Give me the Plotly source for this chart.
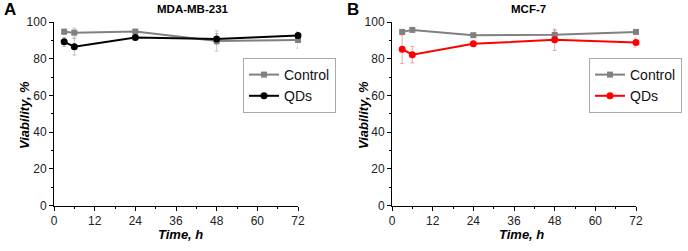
import plotly.graph_objects as go

time_h = [3, 6, 24, 48, 72]

a_control = [94.7, 94.2, 94.8, 89.6, 90.2]
a_control_err = [1.5, 2.5, 1.0, 5.5, 4.5]
a_qds = [89.2, 86.5, 91.6, 90.7, 92.7]
a_qds_err = [2.5, 4.5, 1.0, 3.0, 1.0]

b_control = [94.6, 95.7, 92.8, 93.0, 94.6]
b_control_err = [1.0, 0.8, 1.0, 2.5, 1.0]
b_qds = [85.2, 82.2, 88.1, 90.3, 88.8]
b_qds_err = [7.8, 4.5, 1.0, 5.8, 2.5]

x_ticks = [0, 12, 24, 36, 48, 60, 72]
y_ticks = [0, 20, 40, 60, 80, 100]

W, H = 688, 251
FONT = "Liberation Sans, Arial, sans-serif"

fig = go.Figure()

def add_series(y, err, name, color, ecolor, symbol, size, xa, ya, legend):
    fig.add_trace(go.Scatter(
        x=time_h, y=y, name=name, mode="lines+markers",
        line=dict(color=color, width=2),
        marker=dict(color=color, symbol=symbol, size=size),
        error_y=dict(type="data", array=err, visible=True, color=ecolor,
                     thickness=1, width=2),
        xaxis=xa, yaxis=ya, legend=legend, cliponaxis=False,
    ))

add_series(a_control, a_control_err, "Control", "#808080", "rgba(160,160,160,0.55)", "square", 6, "x", "y", "legend")
add_series(a_qds, a_qds_err, "QDs", "#000000", "rgba(140,140,140,0.55)", "circle", 7, "x", "y", "legend")
add_series(b_control, b_control_err, "Control", "#808080", "rgba(160,160,160,0.55)", "square", 6, "x2", "y2", "legend2")
add_series(b_qds, b_qds_err, "QDs", "#ff0000", "rgba(220,90,90,0.5)", "circle", 7, "x2", "y2", "legend2")

def px_x(p):
    return p / W

def px_y(p):
    return 1 - p / H

ydom = [px_y(205.5), px_y(22)]

axis_common = dict(
    showgrid=False, zeroline=False, showline=True, linecolor="#000", linewidth=1,
    ticks="outside", ticklen=4, tickcolor="#000", tickwidth=1,
    tickfont=dict(family=FONT, size=12, color="#222"),
)

fig.update_layout(
    template="none",
    width=W, height=H, margin=dict(l=0, r=0, t=0, b=0, pad=0, autoexpand=False),
    paper_bgcolor="white", plot_bgcolor="white", showlegend=True,
    xaxis=dict(domain=[px_x(54), px_x(298)], range=[0, 72], tickvals=x_ticks,
               minor=dict(dtick=6, tick0=0, ticks="outside", ticklen=2, tickcolor="#000"),
               anchor="y", **axis_common),
    yaxis=dict(domain=ydom, range=[0, 100], tickvals=y_ticks,
               minor=dict(dtick=10, tick0=0, ticks="outside", ticklen=2, tickcolor="#000"),
               anchor="x", **axis_common),
    xaxis2=dict(domain=[px_x(392), px_x(636)], range=[0, 72], tickvals=x_ticks,
                minor=dict(dtick=6, tick0=0, ticks="outside", ticklen=2, tickcolor="#000"),
                anchor="y2", **axis_common),
    yaxis2=dict(domain=ydom, range=[0, 100], tickvals=y_ticks,
                minor=dict(dtick=10, tick0=0, ticks="outside", ticklen=2, tickcolor="#000"),
                anchor="x2", **axis_common),
    legend=dict(x=px_x(243), y=px_y(58), xanchor="left", yanchor="top",
                bordercolor="#aaa", borderwidth=1, bgcolor="white",
                font=dict(family=FONT, size=14, color="#111"), tracegroupgap=0),
    legend2=dict(x=px_x(589), y=px_y(58), xanchor="left", yanchor="top",
                 bordercolor="#aaa", borderwidth=1, bgcolor="white",
                 font=dict(family=FONT, size=14, color="#111"), tracegroupgap=0),
)

ann = []
def text(x, y, s, size, bold=True, italic=False, angle=0):
    t = s
    if italic:
        t = "<i>" + t + "</i>"
    if bold:
        t = "<b>" + t + "</b>"
    ann.append(dict(x=px_x(x), y=px_y(y), xref="paper", yref="paper", text=t,
                    showarrow=False, xanchor="center", yanchor="middle", textangle=angle,
                    font=dict(family=FONT, size=size, color="#000")))

text(10, 10, "A", 17)
text(353, 10, "B", 17)
text(193, 9, "MDA-MB-231", 11.5)
text(528, 9, "MCF-7", 11.5)
text(180, 234, "Time, h", 13, italic=True)
text(521, 234, "Time, h", 13, italic=True)
text(24, 115, "Viability, %", 13, italic=True, angle=-90)
text(363, 115, "Viability, %", 13, italic=True, angle=-90)

fig.update_layout(annotations=ann)
fig.write_html("out.html", config={"displayModeBar": False},
               post_script="document.body.style.margin='0px';")
